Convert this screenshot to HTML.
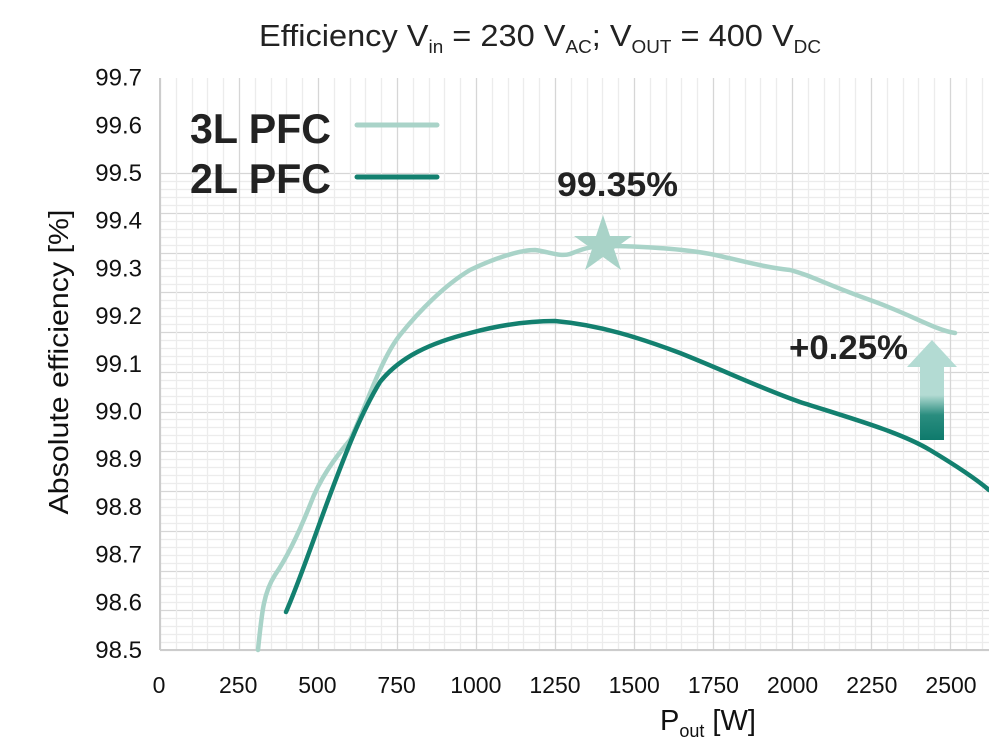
<!DOCTYPE html><html><head><style>body{margin:0;background:#fff}svg{display:block;font-family:"Liberation Sans",sans-serif}</style></head><body>
<svg width="989" height="740" viewBox="0 0 989 740">
<defs><linearGradient id="g" x1="0" y1="0" x2="0" y2="1"><stop offset="0" stop-color="#b3dbd3"/><stop offset="0.55" stop-color="#b3dbd3"/><stop offset="0.75" stop-color="#2a8d7f"/><stop offset="1" stop-color="#0e7a6c"/></linearGradient></defs>
<g id="grid"></g>
<text x="540" y="46" font-size="31" text-anchor="middle" fill="#222" textLength="562" lengthAdjust="spacingAndGlyphs">Efficiency V<tspan font-size="18" dy="7">in</tspan><tspan dy="-7"> = 230 V</tspan><tspan font-size="18" dy="7">AC</tspan><tspan dy="-7">; V</tspan><tspan font-size="18" dy="7">OUT</tspan><tspan dy="-7"> = 400 V</tspan><tspan font-size="18" dy="7">DC</tspan></text>
<g font-size="24" fill="#111" text-anchor="end" id="yl"></g>
<g font-size="23" fill="#111" text-anchor="middle" id="xl"></g>
<text transform="translate(68,362) rotate(-90)" font-size="28" text-anchor="middle" fill="#111" textLength="305" lengthAdjust="spacingAndGlyphs">Absolute efficiency [%]</text>
<text x="660" y="730" font-size="29" fill="#111">P<tspan font-size="18" dy="7">out</tspan><tspan dy="-7"> [W]</tspan></text>
<path d="M258,650 C262,610 264,592 275,575 C288,556 300,530 310,505 C320,478 335,458 350,440 C365,410 380,360 400,335 C420,310 445,285 470,270 C495,258 520,250 535,250 C550,252 560,257 570,254 C580,250 590,246 605,246 C640,246 690,249 720,256 C750,263 770,268 790,270 C810,275 825,284 870,300 C910,314 935,330 955,333" fill="none" stroke="#a9d3c8" stroke-width="4.5" stroke-linecap="round"/>
<path d="M286,612 C300,580 315,535 330,495 C345,455 360,415 380,382 C400,357 430,343 470,333 C500,325 530,321 555,321 C600,325 640,338 680,353 C730,373 760,388 800,402 C850,418 900,432 930,450 C955,465 975,478 989,490" fill="none" stroke="#13806f" stroke-width="4.5" stroke-linecap="round"/>
<polygon points="603,215 610,236 632,236 614,249 621,270 603,257 585,270 592,249 574,236 596,236" fill="#a9d3c8"/>
<polygon points="932,340 957,367 944,367 944,440 920,440 920,367 907,367" fill="url(#g)"/>
<text x="557" y="196" font-size="34" font-weight="bold" fill="#222" textLength="121" lengthAdjust="spacingAndGlyphs">99.35%</text>
<text x="789" y="359" font-size="34" font-weight="bold" fill="#222" textLength="119" lengthAdjust="spacingAndGlyphs">+0.25%</text>
<text x="190" y="143" font-size="42" font-weight="bold" fill="#222" textLength="141" lengthAdjust="spacingAndGlyphs">3L PFC</text>
<text x="190" y="193" font-size="42" font-weight="bold" fill="#222" textLength="141" lengthAdjust="spacingAndGlyphs">2L PFC</text>
<line x1="357" y1="125" x2="437" y2="125" stroke="#a9d3c8" stroke-width="5" stroke-linecap="round"/>
<line x1="357" y1="177" x2="437" y2="177" stroke="#13806f" stroke-width="5" stroke-linecap="round"/>
</svg>
<script>
var g=document.getElementById('grid'),s='';
for(var i=0;i<=60;i++){var y=Math.round(650-i*477/60)+0.5;s+='<line x1="160" x2="989" y1="'+y+'" y2="'+y+'" stroke="'+(i%5?'#ececec':'#d6d6d6')+'" stroke-width="1.3"/>';}
for(var i=0;i<=60;i++){var x=Math.round(160+i*79/5)+0.5;if(x>989)break;s+='<line y1="78" y2="650" x1="'+x+'" x2="'+x+'" stroke="'+(i%5?'#ececec':'#d6d6d6')+'" stroke-width="1.3"/>';}
s+='<line x1="160" x2="989" y1="650" y2="650" stroke="#ccc" stroke-width="2"/><line x1="160" x2="160" y1="78" y2="650" stroke="#ccc" stroke-width="2"/>';
g.innerHTML=s;
var yl='';for(var i=0;i<=12;i++){var v=(98.5+i*0.1).toFixed(1);yl+='<text x="142" y="'+(658-i*47.7)+'">'+v+'</text>';}
document.getElementById('yl').innerHTML=yl;
var xl='';for(var i=0;i<=10;i++){xl+='<text x="'+(159+i*79.2)+'" y="693">'+(i*250)+'</text>';}
document.getElementById('xl').innerHTML=xl;
</script>
</body></html>
